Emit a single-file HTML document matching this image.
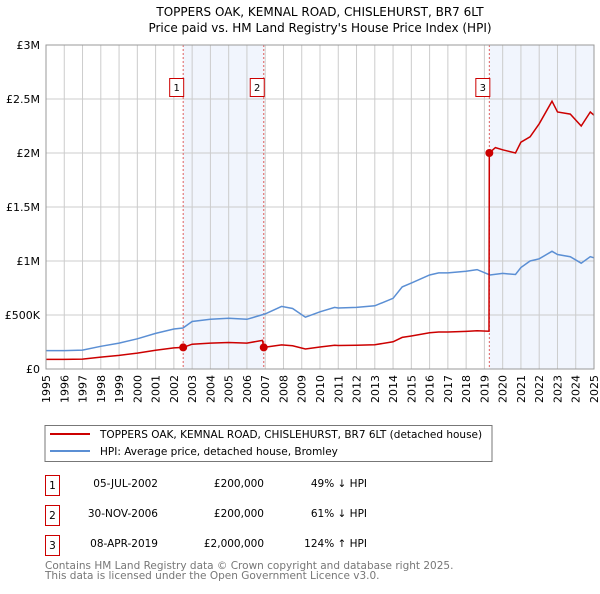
<!DOCTYPE html>
<html><head><meta charset="utf-8"><style>
body{margin:0;background:#fff;font-family:"DejaVu Sans","Liberation Sans",sans-serif;}
svg text{font-family:"DejaVu Sans","Liberation Sans",sans-serif;}
</style></head><body>
<svg id="chart" width="600" height="590" viewBox="0 0 600 590" xmlns="http://www.w3.org/2000/svg">
<text x="320" y="16" font-size="12" text-anchor="middle">TOPPERS OAK, KEMNAL ROAD, CHISLEHURST, BR7 6LT</text>
<text x="320" y="32" font-size="12" text-anchor="middle">Price paid vs. HM Land Registry's House Price Index (HPI)</text>
<g id="plot"></g>
<g>
<rect x="45" y="425.5" width="447" height="36" fill="#fff" stroke="#777"/>
<line x1="50" y1="434" x2="90" y2="434" stroke="#c00" stroke-width="2"/>
<text x="100" y="438" font-size="10.5">TOPPERS OAK, KEMNAL ROAD, CHISLEHURST, BR7 6LT (detached house)</text>
<line x1="50" y1="451" x2="90" y2="451" stroke="#5b8fd4" stroke-width="2"/>
<text x="100" y="455" font-size="10.5">HPI: Average price, detached house, Bromley</text>
</g>
<g font-size="10.5">
<rect x="45.5" y="475.5" width="14" height="20" fill="#fff" stroke="#c00"/><text x="52.5" y="489" text-anchor="middle">1</text>
<text x="158" y="487" text-anchor="end">05-JUL-2002</text><text x="264" y="487" text-anchor="end">£200,000</text><text x="367" y="487" text-anchor="end">49% ↓ HPI</text>
<rect x="45.5" y="505.5" width="14" height="20" fill="#fff" stroke="#c00"/><text x="52.5" y="519" text-anchor="middle">2</text>
<text x="158" y="517" text-anchor="end">30-NOV-2006</text><text x="264" y="517" text-anchor="end">£200,000</text><text x="367" y="517" text-anchor="end">61% ↓ HPI</text>
<rect x="45.5" y="535.5" width="14" height="20" fill="#fff" stroke="#c00"/><text x="52.5" y="549" text-anchor="middle">3</text>
<text x="158" y="547" text-anchor="end">08-APR-2019</text><text x="264" y="547" text-anchor="end">£2,000,000</text><text x="367" y="547" text-anchor="end">124% ↑ HPI</text>
</g>
<text x="45" y="569" font-size="10.5" fill="#777">Contains HM Land Registry data © Crown copyright and database right 2025.</text>
<text x="45" y="579" font-size="10.5" fill="#777">This data is licensed under the Open Government Licence v3.0.</text>
</svg>
<script>
const hpiYears=[1995,1996,1997,1998,1999,2000,2001,2002,2002.5,2003,2004,2005,2006,2007,2007.9,2008.5,2009.2,2010,2010.8,2011,2012,2013,2014,2014.5,2015,2016,2016.5,2017,2018,2018.6,2019.3,2020,2020.7,2021,2021.5,2022,2022.7,2023,2023.7,2024.3,2024.8,2025];
const hpiValues=[0.17,0.17,0.175,0.21,0.24,0.28,0.33,0.37,0.38,0.44,0.46,0.47,0.46,0.51,0.58,0.56,0.48,0.53,0.57,0.565,0.57,0.585,0.655,0.76,0.795,0.87,0.89,0.89,0.905,0.92,0.87,0.885,0.875,0.94,1.0,1.02,1.09,1.06,1.04,0.98,1.04,1.03];
const redYears=[1995,1996,1997,1998,1999,2000,2001,2002,2002.51,2003,2004,2005,2006,2006.85,2006.92,2007.9,2008.5,2009.2,2010,2010.8,2011,2012,2013,2014,2014.5,2015,2016,2016.5,2017,2018,2018.6,2019.25,2019.27,2019.6,2020,2020.7,2021,2021.5,2022,2022.7,2023,2023.7,2024.3,2024.8,2025];
const redValues=[0.089,0.089,0.092,0.11,0.126,0.147,0.174,0.195,0.2,0.23,0.24,0.245,0.24,0.265,0.2,0.223,0.215,0.185,0.204,0.22,0.218,0.22,0.225,0.252,0.293,0.306,0.335,0.343,0.343,0.348,0.354,0.35,2.0,2.05,2.03,2.0,2.1,2.15,2.27,2.48,2.38,2.36,2.25,2.38,2.35];
const saleYears=[2002.51,2006.92,2019.27];
const saleValues=[0.2,0.2,2.0];
const saleLabels=["1","2","3"];
const yTicks=[0,0.5,1,1.5,2,2.5,3];
const yTickLabels=["£0","£500K","£1M","£1.5M","£2M","£2.5M","£3M"];
const xTicks=[1995,1996,1997,1998,1999,2000,2001,2002,2003,2004,2005,2006,2007,2008,2009,2010,2011,2012,2013,2014,2015,2016,2017,2018,2019,2020,2021,2022,2023,2024,2025];

const NS="http://www.w3.org/2000/svg";
const L=46,R=594,T=45,B=369;
const X=y=>L+(y-1995)/30*(R-L);
const Y=v=>B-v/3*(B-T);
const g=document.getElementById('plot');
function mk(t,a,p){const e=document.createElementNS(NS,t);for(const k in a)e.setAttribute(k,a[k]);(p||g).appendChild(e);return e;}
// shading
[[saleYears[0],saleYears[1]],[saleYears[2],2025]].forEach((s,i)=>{
 const r=mk('rect',{x:X(s[0]),y:T,width:X(s[1])-X(s[0]),height:B-T,fill:'#eef3fc',opacity:0.8});
 
 
});
yTicks.forEach((v,i)=>{
 const l=mk('line',{x1:L,x2:R,y1:Y(v),y2:Y(v),stroke:'#ccc'});
 
 
 const t=mk('text',{x:L-6,y:Y(v)+4,'font-size':11,'text-anchor':'end'});t.textContent=yTickLabels[i];
 
 
});
xTicks.forEach(y=>{
 const l=mk('line',{x1:X(y),x2:X(y),y1:T,y2:B,stroke:'#ccc'});
 
 
 const t=mk('text',{x:0,y:0,'font-size':11,'text-anchor':'end',transform:`translate(${X(y)+4},${B+6}) rotate(-90)`});t.textContent=y;
 
 
});
saleYears.forEach((s,i)=>{
 const l=mk('line',{x1:X(s),x2:X(s),y1:T,y2:B,stroke:'#e06060','stroke-dasharray':'2,2'});
 
 
 const r=mk('rect',{x:X(s)-13.5,y:78.5,width:14,height:18,fill:'#fff',stroke:'#c00'});
 
 
 const t=mk('text',{x:X(s)-6.5,y:91,'font-size':10,'text-anchor':'middle'});t.textContent=saleLabels[i];
 
 
});
const pts=(xs,vs)=>xs.map((x,i)=>X(x).toFixed(1)+','+Y(vs[i]).toFixed(1)).join(' ');
const h=mk('polyline',{points:pts(hpiYears,hpiValues),fill:'none',stroke:'#5b8fd4','stroke-width':1.5});


const rl=mk('polyline',{points:pts(redYears,redValues),fill:'none',stroke:'#c00','stroke-width':1.5});


saleYears.forEach((s,i)=>{
 const c=mk('circle',{cx:X(s),cy:Y(saleValues[i]),r:4,fill:'#c00'});
 
 
});
const fr=mk('rect',{x:L,y:T,width:R-L,height:B-T,fill:'none',stroke:'#999'});


</script>
</body></html>
